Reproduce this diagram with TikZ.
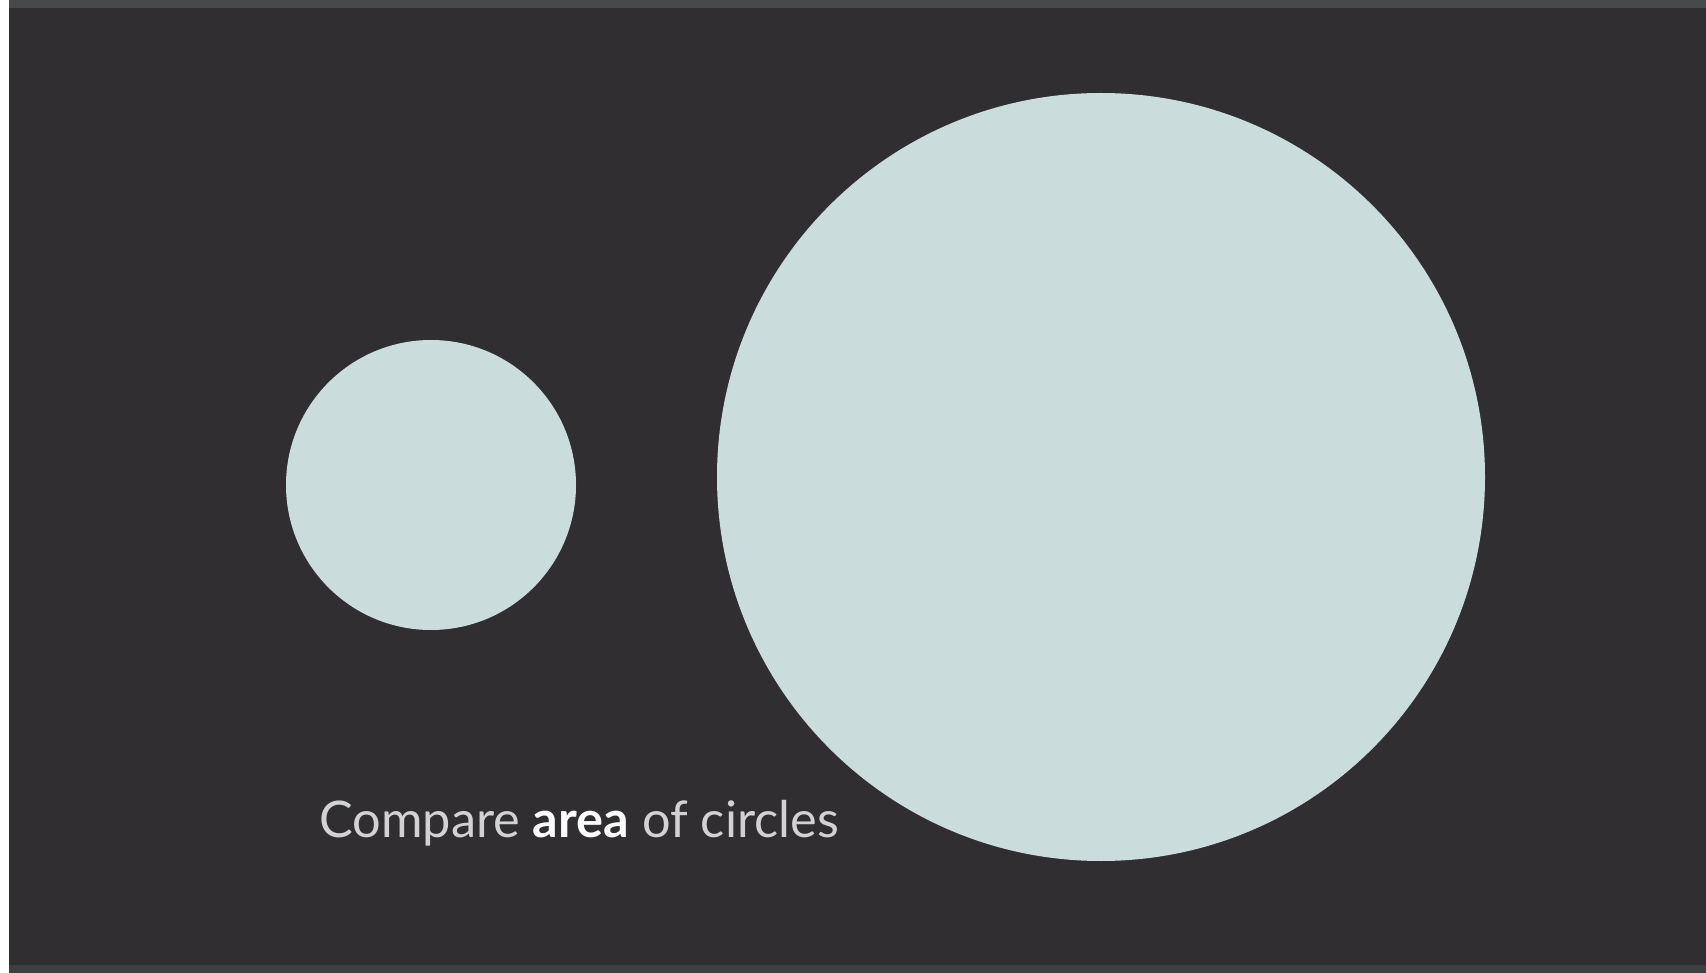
\documentclass[tikz,border=0pt]{standalone}
\usepackage{fontspec}
\setmainfont{Lato}
\definecolor{bg}{HTML}{302E31}
\definecolor{topstrip}{HTML}{464A4B}
\definecolor{botstrip}{HTML}{3E3F40}
\definecolor{disc}{HTML}{CBDCDC}
\definecolor{txt}{HTML}{D2D2D2}
\tikzset{discstyle/.style={circle,fill=disc,draw=none,inner sep=0pt}}
\begin{document}
\begin{tikzpicture}[x=1pt,y=-1pt]
\useasboundingbox (0,0) rectangle (1706,973);
\fill[white] (0,0) rectangle (1706,973);
\fill[bg] (9,0) rectangle (1706,973);
\fill[topstrip] (9,0) rectangle (1706,8);
\fill[botstrip] (9,965) rectangle (1706,973);
\node[discstyle,minimum size=290pt] (small) at (431,485) {};
\node[discstyle,minimum size=768pt] (big) at (1101,477) {};
\node[anchor=west,text=txt,font=\fontsize{50.5}{54}\selectfont,inner sep=0pt] (label) at (319,823) {Compare \textbf{\color{white!92!txt}area} of circles};
\end{tikzpicture}
\end{document}
